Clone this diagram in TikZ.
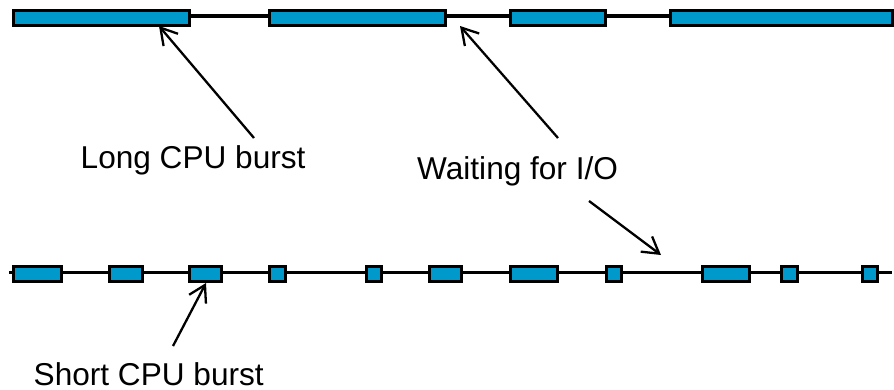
\documentclass[tikz,border=0pt]{standalone}
\usepackage{fontspec}
\setmainfont{Liberation Sans}
\usetikzlibrary{arrows.meta}
\definecolor{burst}{RGB}{0,153,204}
\begin{document}
\begin{tikzpicture}[x=1pt,y=-1pt,
  cpu/.style={draw=black,line width=3pt,fill=burst},
  tl/.style={line width=3.5pt},
  lbl/.style={anchor=base west,inner sep=0pt,font=\fontsize{31.6}{38}\selectfont},
  ptr/.style={line width=2.3pt,-{Straight Barb[length=16pt,width=19pt,line width=2.3pt]}}]
\useasboundingbox (0,0) rectangle (894,389);
% top timeline
\coordinate (t0) at (13,16);
\coordinate (t1) at (893,16);
\draw[tl] (t0) -- (t1);
\foreach \a/\b/\n in {13.5/189.5/A,269.5/445.5/B,510.5/605.5/C,670.5/892.5/D}
  \path[cpu] (\a,10.5) rectangle (\b,25.5) coordinate (T\n);
% bottom timeline
\coordinate (b0) at (9,272.7);
\coordinate (b1) at (892,272.7);
\draw[tl] (b0) -- (b1);
\foreach \a/\b in {13/62,109/143,189/222,269/286,366/382,429/462,510/558,606/622,702/750,781/798,862/878}
  \path[cpu] (\a+0.5,266.2) rectangle (\b-0.5,281.8);
% labels
\node[lbl] (long) at (80.5,168) {Long CPU burst};
\node[lbl] (wait) at (417,179) {Waiting for I/O};
\node[lbl] (short) at (33.5,385.5) {Short CPU burst};
% pointers
\coordinate (lf) at (254,138);  \coordinate (lt) at (159,26);
\coordinate (wf) at (558,138);  \coordinate (wt) at (460,26);
\coordinate (gf) at (589,201);  \coordinate (gt) at (661,255);
\coordinate (sf) at (173,346);  \coordinate (st) at (206,283);
\draw[ptr] (lf) -- (lt);
\draw[ptr] (wf) -- (wt);
\draw[ptr] (gf) -- (gt);
\draw[ptr] (sf) -- (st);
\end{tikzpicture}
\end{document}
